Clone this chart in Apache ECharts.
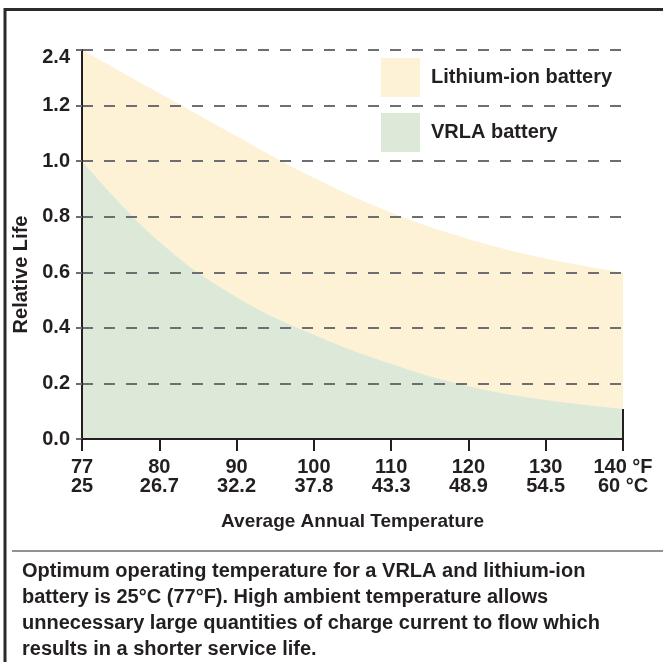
<!DOCTYPE html>
<html>
<head>
<meta charset="utf-8">
<script src="https://cdn.jsdelivr.net/npm/echarts@6/dist/echarts.min.js"></script>
<style>
html,body{margin:0;padding:0;background:#fff;}
#chart{width:663px;height:662px;}
</style>
</head>
<body>
<div id="chart"></div>
<script>
// Category labels (°F over °C)
var tempF = ['77', '80', '90', '100', '110', '120', '130', '140 °F'];
var tempC = ['25', '26.7', '32.2', '37.8', '43.3', '48.9', '54.5', '60 °C'];
// Y tick labels (the top tick is labelled 2.4)
var yTickLabels = ['0.0', '0.2', '0.4', '0.6', '0.8', '1.0', '1.2', '2.4'];
// Series values on the plotted scale
var lithiumIon = [1.40, 1.245, 1.09, 0.94, 0.815, 0.72, 0.65, 0.60];
var vrla = [1.00, 0.71, 0.51, 0.375, 0.27, 0.19, 0.14, 0.108];
var seriesNames = ['Lithium-ion battery', 'VRLA battery'];
var caption = 'Optimum operating temperature for a VRLA and lithium-ion\nbattery is 25°C (77°F). High ambient temperature allows\nunnecessary large quantities of charge current to flow which\nresults in a shorter service life.';

var FONT = '"Liberation Sans", Arial, sans-serif';
var INK = '#231f20';
var categories = tempF.map(function (f, i) { return f + '\n' + tempC[i]; });

var chart = echarts.init(document.getElementById('chart'), null, {renderer: 'canvas'});
chart.setOption({
  backgroundColor: '#ffffff',
  animation: false,
  textStyle: {fontFamily: FONT},
  title: {
    text: caption,
    left: 22,
    top: 558,
    padding: 0,
    textStyle: {fontFamily: FONT, fontSize: 20, fontWeight: 'bold', color: INK, lineHeight: 26}
  },
  legend: {
    orient: 'vertical',
    left: 381,
    top: 58,
    padding: 0,
    itemWidth: 39,
    itemHeight: 39,
    itemGap: 16,
    icon: 'rect',
    data: seriesNames,
    itemStyle: {borderWidth: 0},
    textStyle: {fontFamily: FONT, fontSize: 20, fontWeight: 'bold', color: INK, padding: [0, 0, 0, 6]}
  },
  grid: {left: 82, right: 40, top: 50, bottom: 223, containLabel: false},
  xAxis: {
    type: 'category',
    data: categories,
    boundaryGap: false,
    z: 5,
    name: 'Average Annual Temperature',
    nameLocation: 'middle',
    nameGap: 73,
    nameTextStyle: {fontFamily: FONT, fontSize: 19, fontWeight: 'bold', color: INK},
    axisLine: {lineStyle: {color: INK, width: 2}},
    axisTick: {show: true, length: 12, lineStyle: {color: INK, width: 2}},
    axisLabel: {interval: 0, margin: 19, fontFamily: FONT, fontSize: 20, fontWeight: 'bold', color: INK, lineHeight: 19},
    splitLine: {show: false}
  },
  yAxis: {
    type: 'value',
    min: 0,
    max: 1.4,
    interval: 0.2,
    z: 5,
    name: 'Relative Life',
    nameLocation: 'middle',
    nameGap: 46,
    nameTextStyle: {fontFamily: FONT, fontSize: 20, fontWeight: 'bold', color: INK, padding: [0, 60, 0, 0]},
    axisLine: {show: true, lineStyle: {color: INK, width: 2}},
    axisTick: {show: true, length: 6, lineStyle: {color: '#6d6e71', width: 2}},
    axisLabel: {
      margin: 12,
      fontFamily: FONT, fontSize: 20, fontWeight: 'bold', color: INK,
      formatter: function (v) {
        var i = Math.round(v / 0.2);
        var t = yTickLabels[i];
        return i === yTickLabels.length - 1 ? '{top|' + t + '}' : t;
      },
      rich: {top: {fontFamily: FONT, fontSize: 20, fontWeight: 'bold', color: INK, padding: [14, 0, 0, 0]}}
    },
    splitLine: {show: true, lineStyle: {color: '#6d6e71', width: 2, type: [11, 11]}}
  },
  series: [
    {
      name: seriesNames[0],
      type: 'line',
      data: lithiumIon,
      smooth: 0.4,
      symbol: 'none',
      color: '#fdf2d6',
      lineStyle: {width: 0, color: '#fdf2d6'},
      areaStyle: {color: '#fdf2d6', opacity: 1},
      z: 1
    },
    {
      name: seriesNames[1],
      type: 'line',
      data: vrla,
      smooth: 0.4,
      symbol: 'none',
      color: '#dce9d9',
      lineStyle: {width: 0, color: '#dce9d9'},
      areaStyle: {color: '#dce9d9', opacity: 1},
      z: 2,
      markLine: {
        silent: true,
        symbol: 'none',
        label: {show: false},
        lineStyle: {color: INK, width: 2, type: 'solid'},
        data: [[{coord: [categories.length - 1, 0]}, {coord: [categories.length - 1, vrla[vrla.length - 1]]}]]
      }
    }
  ],
  graphic: [
    {type: 'line', shape: {x1: 4, y1: 9.5, x2: 663, y2: 9.5}, style: {stroke: '#2b2b2b', lineWidth: 3}},
    {type: 'line', shape: {x1: 5, y1: 8, x2: 5, y2: 662}, style: {stroke: '#2b2b2b', lineWidth: 3}},
    {type: 'line', shape: {x1: 12, y1: 551, x2: 663, y2: 551}, style: {stroke: '#6d6e71', lineWidth: 1.5}}
  ]
});
</script>
</body>
</html>
